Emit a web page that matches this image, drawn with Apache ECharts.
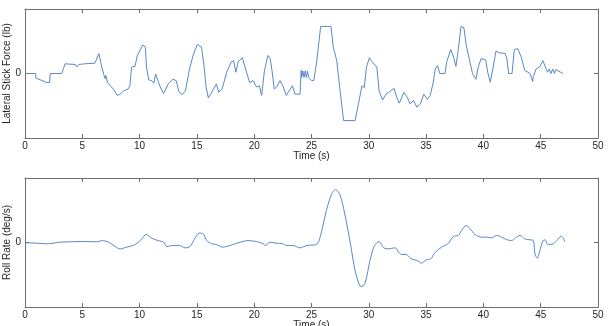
<!DOCTYPE html>
<html><head><meta charset="utf-8">
<script src="https://cdn.jsdelivr.net/npm/echarts@6/dist/echarts.min.js"></script>
<style>html,body{margin:0;padding:0;background:#fff}#c{width:609px;height:326px}</style>
</head><body><div id="c"></div>
<script>
var xTicks = [0,5,10,15,20,25,30,35,40,45,50];
var yTicks = [0];

var forceTime = [0,0.93,0.95,1.9,2.15,2.2,3.2,3.5,4.4,4.5,4.7,5.2,6.1,6.45,6.7,6.9,7.0,7.05,7.2,7.7,8.05,8.3,8.6,9.0,9.15,9.3,9.6,9.8,10.27,10.5,10.6,10.8,11.05,11.25,11.4,11.6,11.8,12.1,12.5,12.9,13.2,13.4,13.7,14.0,14.35,14.7,15.04,15.4,15.6,15.8,16.0,16.2,16.45,16.7,16.9,17.2,17.6,18.0,18.2,18.4,18.6,18.96,19.2,19.6,19.9,20.2,20.45,20.65,20.9,21.2,21.4,21.55,21.75,21.95,22.25,22.5,22.8,23.15,23.35,23.55,24.0,24.1,24.15,24.25,24.35,24.45,24.55,24.65,24.75,25.0,25.2,25.45,25.8,26.7,26.9,27.2,27.5,27.8,28.8,29.1,29.4,29.6,29.8,30.05,30.2,30.35,30.7,30.9,31.2,31.5,31.9,32.2,32.4,32.66,33.07,33.36,33.6,33.9,34.2,34.5,34.8,35.1,35.35,35.6,35.8,36.0,36.2,36.65,36.8,37.15,37.4,37.6,37.8,38.05,38.3,38.5,38.8,39.05,39.35,39.55,39.8,40.2,40.4,40.6,40.85,41.1,41.4,41.9,42.05,42.2,42.5,42.7,43.0,43.3,43.6,44.07,44.3,44.35,44.6,44.9,45.2,45.4,45.6,45.75,45.9,46.05,46.2,46.3,46.95];
var forceValue = [0,0,-0.07,-0.14,-0.14,0,0,0.15,0.14,0.10,0.14,0.15,0.16,0.31,0.10,-0.03,-0.08,-0.03,-0.14,-0.24,-0.34,-0.32,-0.27,-0.24,-0.19,0.10,0.11,0.28,0.44,0.41,0.10,-0.10,-0.11,-0.15,-0.01,-0.11,-0.21,-0.31,-0.16,-0.09,-0.11,-0.27,-0.33,-0.27,0.07,0.30,0.45,0.41,0.15,-0.21,-0.38,-0.32,-0.24,-0.16,-0.29,-0.24,0.02,0.18,0.20,0.02,0.18,0.245,0.10,-0.14,-0.11,-0.21,-0.19,-0.34,0.05,0.28,0.23,0.05,-0.24,-0.21,-0.11,-0.19,-0.34,-0.24,-0.19,-0.32,-0.32,0.05,-0.06,0.04,-0.06,0.04,-0.06,0.04,-0.06,-0.11,-0.11,0.18,0.73,0.73,0.41,0.20,-0.27,-0.73,-0.73,-0.47,-0.19,-0.22,0.10,0.245,0.20,0.20,0.10,-0.27,-0.41,-0.32,-0.27,-0.23,-0.35,-0.46,-0.29,-0.37,-0.47,-0.42,-0.52,-0.47,-0.32,-0.40,-0.34,-0.16,0.07,0.125,0,0,0.18,0.37,0.255,0.11,0.36,0.73,0.71,0.44,0.20,0,-0.09,0.10,0.23,0.21,0,-0.135,0.10,0.35,0.32,0.31,0.23,0,0,0.37,0.385,0.255,0.05,0,-0.125,-0.05,0.07,0.10,0.20,0.10,0.02,0.07,0,0.07,0,0.06,0,0];

var rollTime = [0,1.0,1.8,2.5,3.05,5.4,6.3,6.7,7.3,7.85,8.3,8.9,9.45,9.9,10.2,10.56,11.05,11.6,12.1,12.36,12.95,13.5,13.96,14.4,14.8,15.2,15.56,15.85,16.3,16.7,17.25,17.9,18.5,19.1,19.35,20.2,20.8,20.95,21.4,21.9,22.5,22.8,23.4,24.0,24.6,25.45,25.75,26.3,26.76,27.1,27.5,27.9,28.4,28.8,29.2,29.4,29.7,30.1,30.5,30.9,31.3,31.7,32.3,32.6,32.87,33.25,33.7,34.2,34.6,35.0,35.4,35.8,36.36,36.9,37.38,37.8,38.1,38.5,38.85,39.27,39.85,40.3,40.7,41.16,41.6,42.0,42.47,42.8,43.2,43.6,44.07,44.36,44.5,44.7,44.93,45.2,45.4,45.6,46.1,46.4,46.8,47.0,47.1];
var rollValue = [-0.005,-0.01,-0.02,-0.01,0.005,0.015,0.01,0.03,0.005,-0.06,-0.10,-0.07,-0.045,0.005,0.057,0.124,0.067,0.03,0.005,-0.062,-0.046,-0.046,-0.083,-0.062,0.057,0.145,0.134,0.03,-0.02,-0.03,-0.072,-0.046,-0.01,0.02,0.03,0.015,-0.02,-0.046,0.005,-0.01,-0.02,-0.046,-0.046,-0.083,-0.046,-0.03,0.083,0.496,0.755,0.82,0.73,0.445,-0.02,-0.434,-0.666,-0.682,-0.615,-0.279,-0.046,0.015,-0.083,-0.098,-0.083,-0.15,-0.186,-0.186,-0.253,-0.279,-0.32,-0.269,-0.253,-0.15,-0.072,-0.02,0.093,0.109,0.186,0.264,0.212,0.124,0.083,0.083,0.072,0.109,0.083,0.046,0.03,0.072,0.109,0.057,0.041,0.03,-0.176,-0.243,-0.124,0.03,0.041,-0.03,-0.02,0.03,0.098,0.057,0.005];

function pairs(t, v){ return t.map(function(x,i){ return [x, v[i]]; }); }

var FONT = 'Liberation Sans, Arial, Helvetica, sans-serif';
var AX = '#6e6e6e';
var TXT = '#262626';
var LINE = '#5a88c8';

function xAx(gi, top, name){
  return {
    type:'value', gridIndex:gi, min:0, max:50, interval:5,
    position: top ? 'top' : 'bottom',
    name: top ? '' : name, nameLocation:'middle', nameGap: 13, nameMoveOverlap:false,
    nameTextStyle:{color:TXT, fontFamily:FONT, fontSize:10},
    axisLine:{show:true, onZero:false, lineStyle:{color:AX, width:1}},
    axisTick:{show:true, inside:true, length:4, lineStyle:{color:AX}},
    axisLabel:{show:!top, margin:3, color:TXT, fontFamily:FONT, fontSize:10,
      formatter:function(v){ return xTicks.indexOf(v)>=0 ? String(v) : ''; }},
    splitLine:{show:false}
  };
}
function yAx(gi, right, name){
  return {
    type:'value', gridIndex:gi, min:-1, max:1, interval:1,
    position: right ? 'right' : 'left',
    name: right ? '' : name, nameLocation:'middle', nameGap: 13, nameMoveOverlap:false,
    nameTextStyle:{color:TXT, fontFamily:FONT, fontSize:10},
    axisLine:{show:true, onZero:false, lineStyle:{color:AX, width:1}},
    axisTick:{show:true, inside:true, length:4, lineStyle:{color:AX}},
    axisLabel:{show:!right, margin:4, color:TXT, fontFamily:FONT, fontSize:10,
      formatter:function(v){ return yTicks.indexOf(v)>=0 ? String(v) : ''; }},
    splitLine:{show:false}
  };
}

var chart = echarts.init(document.getElementById('c'), null, {renderer:'canvas'});
chart.setOption({
  animation:false,
  backgroundColor:'#fff',
  grid:[
    {left:25, right:11, top:9, height:129, containLabel:false, outerBoundsMode:'none'},
    {left:25, right:11, top:178, height:129, containLabel:false, outerBoundsMode:'none'}
  ],
  xAxis:[ xAx(0,false,'Time (s)'), xAx(0,true), xAx(1,false,'Time (s)'), xAx(1,true) ],
  yAxis:[ yAx(0,false,'Lateral Stick Force (lb)'), yAx(0,true), yAx(1,false,'Roll Rate (deg/s)'), yAx(1,true) ],
  series:[
    {type:'line', xAxisIndex:0, yAxisIndex:0, data:pairs(forceTime, forceValue), showSymbol:false, lineStyle:{color:LINE, width:1}},
    {type:'line', xAxisIndex:2, yAxisIndex:2, data:pairs(rollTime, rollValue), showSymbol:false, smooth:0.3, lineStyle:{color:LINE, width:1}}
  ]
});
</script></body></html>
